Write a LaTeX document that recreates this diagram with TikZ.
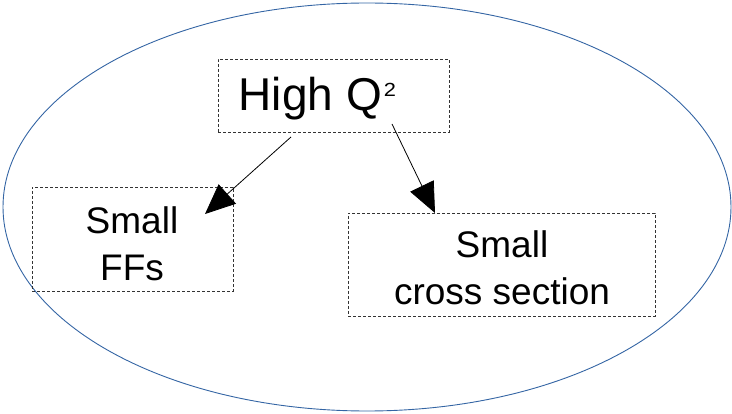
\documentclass[tikz,border=0pt]{standalone}
\usepackage{fontspec}
\setmainfont{Liberation Sans}
\usetikzlibrary{arrows.meta}
\definecolor{ellblue}{HTML}{3465A4}
\definecolor{boxgray}{HTML}{333333}
\tikzset{
  dbox/.style={draw=boxgray, line width=0.9pt, dash pattern=on 3pt off 2pt, inner sep=0pt, align=center, anchor=center},
  conn/.style={draw=black, line width=0.8pt, -{Triangle[length=30pt,width=26pt]}},
  bigtxt/.style={font=\fontsize{46}{52}\selectfont, inner sep=0pt},
  midtxt/.style={font=\fontsize{37}{47}\selectfont, inner sep=0pt},
  suptxt/.style={font=\fontsize{19}{21}\selectfont, inner sep=0pt, xscale=1.15}
}
\begin{document}
\begin{tikzpicture}[x=1pt,y=-1pt]
\useasboundingbox (0,0) rectangle (732,414);
\draw[ellblue, line width=0.9pt] (367,207) ellipse [x radius=364, y radius=204];
\node[dbox, minimum width=231pt, minimum height=73pt] (hq) at (333.5,95.5) {};
\node[bigtxt, anchor=base west] (hqt) at (238.5,111) {High Q};
\node[suptxt, anchor=base west] (hqs) at ([xshift=1.5pt,yshift=14pt]hqt.base east) {2};
\node[dbox, minimum width=201pt, minimum height=104pt] (ff) at (132.5,239) {};
\node[midtxt, align=center] (fft) at (132,244) {Small\\FFs};
\node[dbox, minimum width=307pt, minimum height=103pt] (cs) at (501.5,264.5) {};
\node[midtxt, align=center] (cst) at (502,267.5) {Small\\cross section};
\coordinate (a1s) at (291,137);
\coordinate (a1e) at (205,214);
\coordinate (a2s) at (392,124);
\coordinate (a2e) at (435,213);
\draw[conn] (a1s) -- (a1e);
\draw[conn] (a2s) -- (a2e);
\end{tikzpicture}
\end{document}
